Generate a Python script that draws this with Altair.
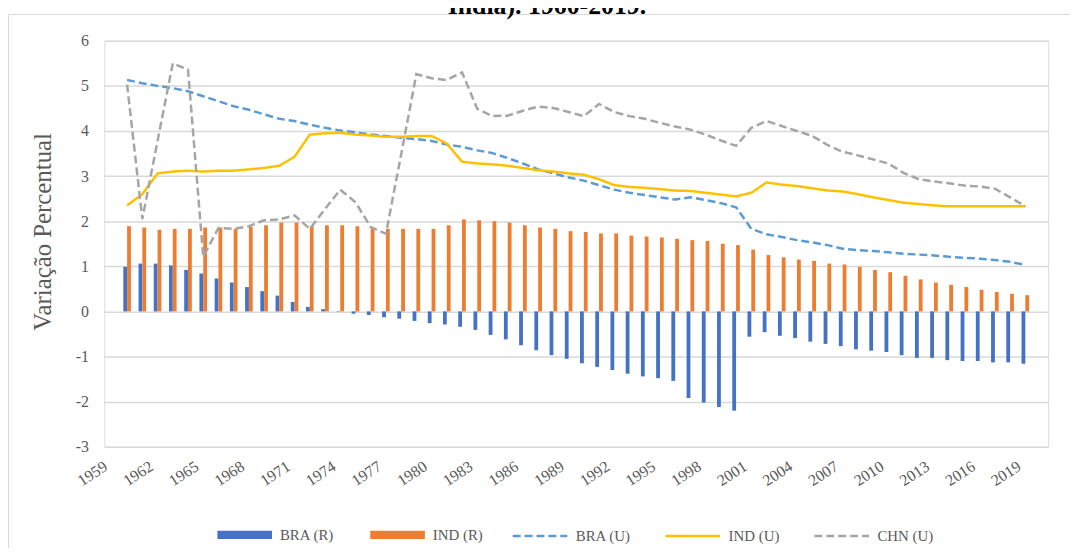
import altair as alt
import pandas as pd

years = list(range(1960, 2020))
axis_years = list(range(1959, 2021))
tick_years = list(range(1959, 2020, 3))

bra_r = [0.99, 1.06, 1.06, 1.02, 0.92, 0.84, 0.73, 0.64, 0.54, 0.45,
         0.35, 0.21, 0.10, 0.05, 0.01, -0.05, -0.08, -0.13, -0.16, -0.21,
         -0.26, -0.29, -0.34, -0.41, -0.52, -0.62, -0.75, -0.86, -0.97, -1.05,
         -1.15, -1.23, -1.30, -1.38, -1.44, -1.48, -1.54, -1.92, -2.02, -2.12,
         -2.20, -0.56, -0.46, -0.54, -0.59, -0.67, -0.72, -0.77, -0.84, -0.87,
         -0.90, -0.97, -1.03, -1.03, -1.08, -1.10, -1.10, -1.13, -1.13, -1.16]
ind_r = [1.89, 1.86, 1.81, 1.83, 1.83, 1.86, 1.86, 1.83, 1.88, 1.91,
         1.97, 1.97, 1.89, 1.91, 1.91, 1.89, 1.86, 1.83, 1.83, 1.83,
         1.83, 1.91, 2.04, 2.02, 2.00, 1.97, 1.91, 1.86, 1.83, 1.78,
         1.76, 1.73, 1.73, 1.68, 1.66, 1.64, 1.61, 1.58, 1.56, 1.50,
         1.47, 1.37, 1.25, 1.20, 1.15, 1.12, 1.06, 1.04, 0.99, 0.92,
         0.87, 0.79, 0.71, 0.64, 0.59, 0.54, 0.48, 0.43, 0.39, 0.36]
bra_u = [5.13, 5.06, 5.00, 4.95, 4.88, 4.77, 4.66, 4.55, 4.47, 4.37,
         4.27, 4.22, 4.14, 4.07, 4.01, 3.97, 3.92, 3.89, 3.85, 3.82,
         3.78, 3.70, 3.65, 3.57, 3.51, 3.40, 3.28, 3.15, 3.06, 2.97,
         2.90, 2.80, 2.70, 2.63, 2.58, 2.53, 2.48, 2.53, 2.47, 2.40,
         2.31, 1.83, 1.71, 1.65, 1.58, 1.53, 1.47, 1.39, 1.36, 1.34,
         1.31, 1.28, 1.26, 1.24, 1.21, 1.19, 1.17, 1.14, 1.10, 1.03]
ind_u = [2.35, 2.60, 3.06, 3.10, 3.12, 3.10, 3.12, 3.12, 3.15, 3.18,
         3.23, 3.43, 3.92, 3.95, 3.96, 3.92, 3.90, 3.87, 3.87, 3.89,
         3.89, 3.72, 3.32, 3.28, 3.26, 3.23, 3.18, 3.13, 3.10, 3.06,
         3.03, 2.93, 2.80, 2.76, 2.74, 2.71, 2.68, 2.67, 2.63, 2.59,
         2.55, 2.63, 2.86, 2.81, 2.78, 2.73, 2.68, 2.66, 2.60, 2.53,
         2.47, 2.41, 2.38, 2.35, 2.33, 2.33, 2.33, 2.33, 2.33, 2.33]
chn_u = [5.03, 2.05, 3.78, 5.50, 5.36, 1.21, 1.85, 1.83, 1.89, 2.02,
         2.04, 2.13, 1.83, 2.27, 2.70, 2.42, 1.87, 1.72, 3.48, 5.26,
         5.17, 5.13, 5.30, 4.49, 4.33, 4.34, 4.45, 4.54, 4.51, 4.42,
         4.33, 4.60, 4.42, 4.33, 4.27, 4.18, 4.10, 4.03, 3.92, 3.79,
         3.67, 4.07, 4.22, 4.11, 4.00, 3.89, 3.69, 3.54, 3.46, 3.37,
         3.28, 3.07, 2.93, 2.88, 2.84, 2.79, 2.77, 2.72, 2.53, 2.33]

bar_series = ["BRA (R)", "IND (R)"]
line_series = ["BRA (U)", "IND (U)", "CHN (U)"]
bar_colors = ["#4472C4", "#ED7D31"]
line_colors = ["#5B9BD5", "#FFC000", "#A5A5A5"]
line_dashes = [[8, 4], [1, 0], [8, 4]]
title_text = "India). 1960-2019."

bars_df = pd.DataFrame({
    "ano": years * 2,
    "serie": [bar_series[0]] * len(years) + [bar_series[1]] * len(years),
    "valor": bra_r + ind_r,
})
lines_df = pd.DataFrame({
    "ano": years * 3,
    "serie": [line_series[0]] * len(years) + [line_series[1]] * len(years) + [line_series[2]] * len(years),
    "valor": bra_u + ind_u + chn_u,
})

FONT = "Liberation Serif"
GRAY = "#595959"

x_scale = alt.Scale(domain=axis_years, paddingInner=0, paddingOuter=0)
x_axis = alt.Axis(values=tick_years, labelAngle=-33, labelAlign="right", labelBaseline="middle",
                  labelPadding=18, labelOffset=-6, labelFont=FONT, labelFontSize=16, labelColor=GRAY,
                  ticks=False, domain=False, grid=False, title=None, labelOverlap=False)
y_scale = alt.Scale(domain=[-3, 6], nice=False)
y_axis = alt.Axis(values=list(range(-3, 7)), labelExpr="'' + datum.value", labelFont=FONT,
                  labelFontSize=16, labelColor=GRAY, labelPadding=16, ticks=False, domain=False,
                  grid=True, gridColor="#D9D9D9", gridWidth=1.5,
                  title="Variação Percentual", titleFont=FONT, titleFontSize=25,
                  titleFontWeight="normal", titleColor=GRAY, titleX=-62, titleY=192,
                  titleAngle=-90, titleAlign="center", titleBaseline="middle")

bar_legend = alt.Legend(title=None, orient="none", legendX=114, legendY=470, direction="horizontal",
                        symbolType="M-1,-0.15H1V0.15H-1Z", symbolSize=3025, symbolStrokeWidth=0,
                        labelFont=FONT, labelFontSize=15, labelColor=GRAY, labelOffset=8,
                        columnPadding=36, padding=0)
line_legend = alt.Legend(title=None, orient="none", legendX=410, legendY=470, direction="horizontal",
                         symbolType="stroke", symbolSize=3025, symbolStrokeWidth=2.5,
                         labelFont=FONT, labelFontSize=15, labelColor=GRAY, labelOffset=7,
                         columnPadding=29, padding=0)

frame = alt.Chart(pd.DataFrame({"k": [0]})).mark_rect(
    fillOpacity=0, stroke="#D9D9D9", strokeWidth=1
).encode(x=alt.value(-96.5), x2=alt.value(1000), y=alt.value(-26.5), y2=alt.value(620))

title = alt.Chart(pd.DataFrame({"t": [title_text]})).mark_text(
    font=FONT, fontSize=26, fontWeight="bold", color="black", align="center", baseline="alphabetic"
).encode(text="t:N", x=alt.value(446), y=alt.value(-27))

bars = alt.Chart(bars_df).mark_bar().encode(
    x=alt.X("ano:O", scale=x_scale, axis=x_axis),
    xOffset=alt.XOffset("serie:N", scale=alt.Scale(domain=bar_series, paddingInner=0, paddingOuter=1)),
    y=alt.Y("valor:Q", scale=y_scale, axis=y_axis),
    color=alt.Color("serie:N", scale=alt.Scale(domain=bar_series, range=bar_colors), legend=bar_legend),
)

lines = alt.Chart(lines_df).mark_line(strokeWidth=2.5).encode(
    x=alt.X("ano:O", scale=x_scale, axis=x_axis),
    y=alt.Y("valor:Q", scale=y_scale, axis=y_axis),
    stroke=alt.Stroke("serie:N", scale=alt.Scale(domain=line_series, range=line_colors), legend=line_legend),
    strokeDash=alt.StrokeDash("serie:N", scale=alt.Scale(domain=line_series, range=line_dashes), legend=line_legend),
)

chart = alt.layer(frame, title, bars, lines).properties(
    width=951, height=409,
    autosize=alt.AutoSizeParams(type="none"),
    padding={"left": 97, "top": 31, "right": 22, "bottom": 100},
).configure_view(strokeWidth=0).configure(background="white")

chart.save("out.html", embed_options={"renderer": "svg", "actions": False})
